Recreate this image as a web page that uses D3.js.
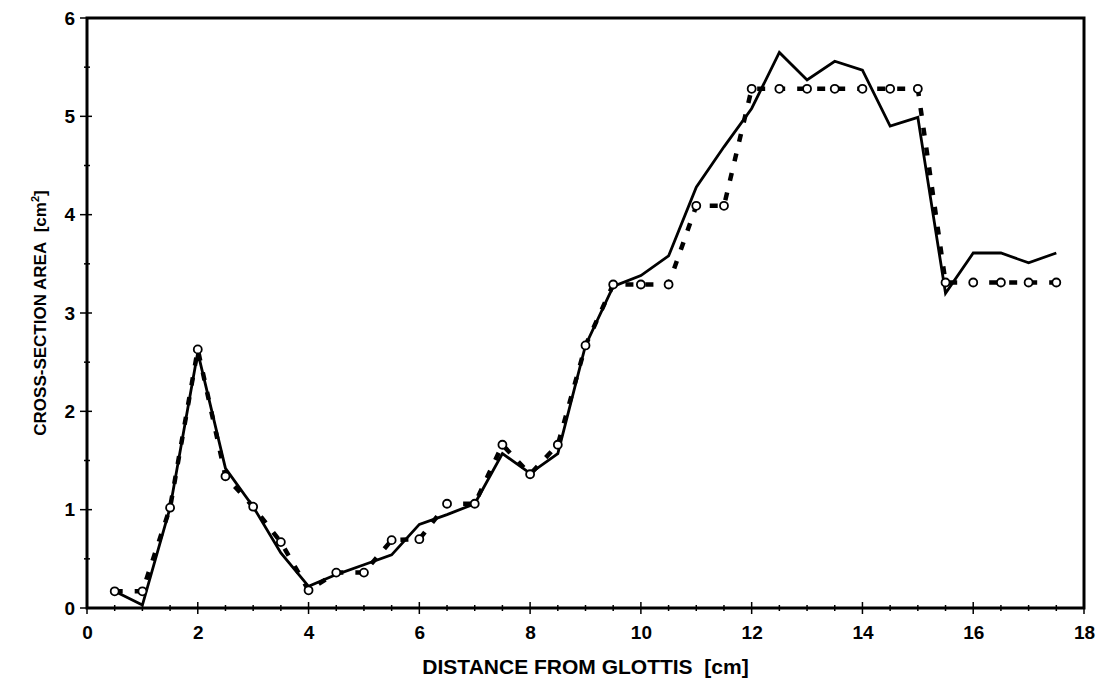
<!DOCTYPE html>
<html>
<head>
<meta charset="utf-8">
<script src="https://cdn.jsdelivr.net/npm/d3@7"></script>
<style>
  body { margin: 0; background: #fff; }
  svg { display: block; }
  text { font-family: "Liberation Sans", Arial, sans-serif; font-weight: bold; fill: #000; }
</style>
</head>
<body>
<div id="vis"></div>
<script>
const margin = { top: 18, right: 14, bottom: 78, left: 87 };
const W = 1098, H = 686;

// distance from glottis (cm), one sample every 0.5 cm
const distance = [0.5, 1, 1.5, 2, 2.5, 3, 3.5, 4, 4.5, 5, 5.5, 6, 6.5, 7, 7.5, 8, 8.5, 9,
  9.5, 10, 10.5, 11, 11.5, 12, 12.5, 13, 13.5, 14, 14.5, 15, 15.5, 16, 16.5, 17, 17.5];

// solid line
const areaSolid = [0.17, 0.03, 1.02, 2.6, 1.42, 1.03, 0.56, 0.22, 0.34, 0.44, 0.54, 0.85, 0.95, 1.06, 1.57, 1.37, 1.57, 2.67,
  3.27, 3.38, 3.58, 4.28, 4.69, 5.08, 5.65, 5.37, 5.56, 5.47, 4.9, 4.99, 3.2, 3.61, 3.61, 3.51, 3.61];

// dashed line with circles
const areaDashed = [0.17, 0.17, 1.02, 2.63, 1.34, 1.03, 0.67, 0.18, 0.36, 0.36, 0.69, 0.7, 1.06, 1.06, 1.66, 1.36, 1.66, 2.67,
  3.29, 3.29, 3.29, 4.09, 4.09, 5.28, 5.28, 5.28, 5.28, 5.28, 5.28, 5.28, 3.31, 3.31, 3.31, 3.31, 3.31];

const xTicks = [0, 2, 4, 6, 8, 10, 12, 14, 16, 18];
const yTicks = [0, 1, 2, 3, 4, 5, 6];

const width = W - margin.left - margin.right;
const height = H - margin.top - margin.bottom;

const x = d3.scaleLinear().domain([0, 18]).range([0, width]);
const y = d3.scaleLinear().domain([0, 6]).range([height, 0]);

const $svg = d3.select('#vis').append('svg')
  .attr('width', W)
  .attr('height', H);

const $plot = $svg.append('g')
  .attr('transform', `translate(${margin.left}, ${margin.top})`);

// minor ticks every 0.5
const xMinor = d3.range(0, 18.01, 0.5);
const yMinor = d3.range(0, 6.01, 0.5);

$plot.append('g').selectAll('line')
  .data(xMinor)
  .join('line')
  .attr('x1', d => x(d)).attr('x2', d => x(d))
  .attr('y1', d => height - (d % 2 === 0 ? 6 : 3))
  .attr('y2', d => height + (d % 2 === 0 ? 6 : 3))
  .attr('stroke', '#000')
  .attr('stroke-width', 1.5);

$plot.append('g').selectAll('line')
  .data(yMinor)
  .join('line')
  .attr('y1', d => y(d)).attr('y2', d => y(d))
  .attr('x1', d => (d % 1 === 0 ? -7 : -3))
  .attr('x2', d => (d % 1 === 0 ? 5 : 3))
  .attr('stroke', '#000')
  .attr('stroke-width', 1.5);

// tick labels
const xAxis = d3.axisBottom(x).tickValues(xTicks).tickSize(0).tickPadding(18);
const yAxis = d3.axisLeft(y).tickValues(yTicks).tickSize(0).tickPadding(12).tickFormat(d3.format('d'));

$plot.append('g')
  .attr('class', 'axis x')
  .attr('transform', `translate(0, ${height})`)
  .call(xAxis)
  .call(g => g.selectAll('text').attr('font-size', 19).attr('font-family', null))
  .select('.domain').remove();

$plot.append('g')
  .attr('class', 'axis y')
  .call(yAxis)
  .call(g => g.selectAll('text').attr('font-size', 19).attr('font-family', null))
  .select('.domain').remove();

// frame
$plot.append('rect')
  .attr('x', 0).attr('y', 0)
  .attr('width', width).attr('height', height)
  .attr('fill', 'none')
  .attr('stroke', '#000')
  .attr('stroke-width', 3);

const line = d3.line()
  .x(d => x(d[0]))
  .y(d => y(d[1]));

const dashedPts = distance.map((d, i) => [d, areaDashed[i]]);
const solidPts = distance.map((d, i) => [d, areaSolid[i]]);

$plot.append('path')
  .attr('d', line(dashedPts))
  .attr('fill', 'none')
  .attr('stroke', '#000')
  .attr('stroke-width', 4.5)
  .attr('stroke-dasharray', '8, 12');

$plot.append('path')
  .attr('d', line(solidPts))
  .attr('fill', 'none')
  .attr('stroke', '#000')
  .attr('stroke-width', 2.8)
  .attr('stroke-linejoin', 'miter');

$plot.append('g').selectAll('circle')
  .data(dashedPts)
  .join('circle')
  .attr('cx', d => x(d[0]))
  .attr('cy', d => y(d[1]))
  .attr('r', 4)
  .attr('fill', '#fff')
  .attr('stroke', '#000')
  .attr('stroke-width', 1.8);

// axis titles
$svg.append('text')
  .attr('x', margin.left + width / 2)
  .attr('y', 674)
  .attr('text-anchor', 'middle')
  .attr('font-size', 21)
  .text('DISTANCE FROM GLOTTIS\u00a0\u00a0[cm]');

const yt = $svg.append('text')
  .attr('transform', `translate(46, ${margin.top + height / 2}) rotate(-90)`)
  .attr('text-anchor', 'middle')
  .attr('font-size', 17);
yt.append('tspan').text('CROSS-SECTION AREA\u00a0\u00a0[cm');
yt.append('tspan').attr('font-size', 11).attr('dy', -7).text('2');
yt.append('tspan').attr('dy', 7).text(']');
</script>
</body>
</html>
